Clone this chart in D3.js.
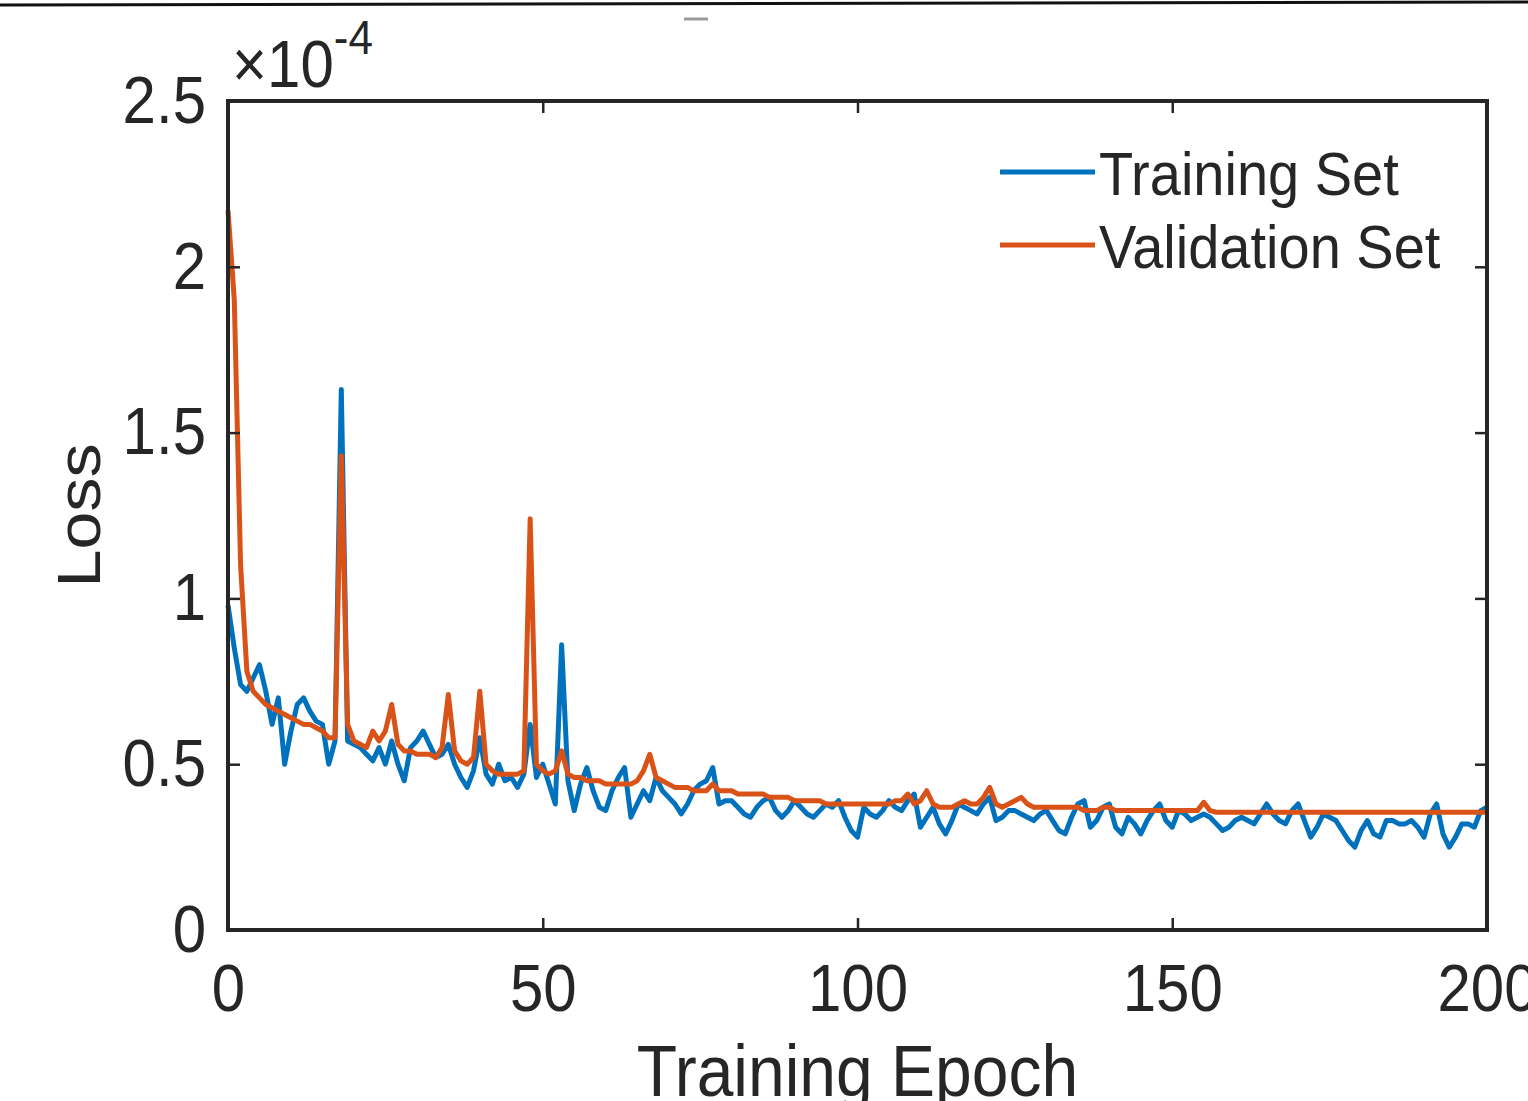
<!DOCTYPE html>
<html>
<head>
	<title>Loss</title>
	<script type="text/javascript" src="https://cdn.jsdelivr.net/npm/d3@7/dist/d3.min.js"></script>
	<style type="text/css">
		body{ margin:0; background:white; }
		text{ font-family: "Liberation Sans", Arial, Helvetica, sans-serif; fill:#262626; }
		.stretch{ transform-box: fill-box; transform-origin: center; transform: scaleY(1.1); }
		.stretch-x{ transform-box: fill-box; transform-origin: center; transform: scaleX(1.1); }
	</style>
</head>
<body>

	<svg width=1528 height=1101 class="lossplot"></svg>

	<script type="text/javascript">

		// loss values, units of 1e-4, one per epoch 0..200
		training = [
			0.98,0.85,0.74,0.72,0.76,0.80,0.72,0.62,0.70,0.50,
			0.60,0.68,0.70,0.66,0.63,0.62,0.50,0.57,1.63,0.57,
			0.56,0.55,0.53,0.51,0.55,0.50,0.57,0.50,0.45,0.55,
			0.57,0.60,0.56,0.52,0.53,0.56,0.50,0.46,0.43,0.48,
			0.58,0.47,0.44,0.50,0.45,0.46,0.43,0.47,0.62,0.46,
			0.50,0.44,0.38,0.86,0.45,0.36,0.44,0.49,0.42,0.37,
			0.36,0.42,0.46,0.49,0.34,0.38,0.42,0.39,0.46,0.42,
			0.40,0.38,0.35,0.38,0.42,0.44,0.45,0.49,0.38,0.39,
			0.39,0.37,0.35,0.34,0.37,0.39,0.40,0.36,0.34,0.36,
			0.39,0.37,0.35,0.34,0.36,0.38,0.37,0.39,0.34,0.30,
			0.28,0.37,0.35,0.34,0.36,0.39,0.37,0.36,0.39,0.41,
			0.31,0.34,0.37,0.32,0.29,0.33,0.38,0.37,0.36,0.35,
			0.38,0.40,0.33,0.34,0.36,0.36,0.35,0.34,0.33,0.35,
			0.36,0.33,0.30,0.29,0.34,0.38,0.39,0.31,0.33,0.37,
			0.38,0.31,0.29,0.34,0.32,0.29,0.33,0.36,0.38,0.33,
			0.31,0.36,0.35,0.33,0.34,0.35,0.34,0.32,0.30,0.31,
			0.33,0.34,0.33,0.32,0.35,0.38,0.35,0.33,0.32,0.36,
			0.38,0.33,0.28,0.31,0.35,0.34,0.33,0.30,0.27,0.25,
			0.30,0.33,0.29,0.28,0.33,0.33,0.32,0.32,0.33,0.31,
			0.28,0.35,0.38,0.29,0.25,0.28,0.32,0.32,0.31,0.36,
			0.37
		]

		validation = [
			2.17,1.90,1.10,0.78,0.72,0.70,0.68,0.67,0.66,0.65,
			0.64,0.63,0.62,0.62,0.61,0.60,0.58,0.58,1.43,0.62,
			0.57,0.56,0.55,0.60,0.57,0.60,0.68,0.56,0.54,0.54,
			0.53,0.53,0.53,0.52,0.55,0.71,0.54,0.51,0.50,0.52,
			0.72,0.50,0.48,0.47,0.47,0.47,0.47,0.48,1.24,0.50,
			0.48,0.47,0.48,0.54,0.47,0.46,0.46,0.45,0.45,0.45,
			0.44,0.44,0.44,0.44,0.44,0.45,0.48,0.53,0.46,0.45,
			0.44,0.43,0.43,0.43,0.42,0.42,0.42,0.44,0.42,0.42,
			0.42,0.41,0.41,0.41,0.41,0.41,0.40,0.40,0.40,0.40,
			0.39,0.39,0.39,0.39,0.39,0.38,0.38,0.38,0.38,0.38,
			0.38,0.38,0.38,0.38,0.38,0.38,0.39,0.39,0.41,0.38,
			0.39,0.42,0.38,0.37,0.37,0.37,0.38,0.39,0.38,0.38,
			0.40,0.43,0.38,0.37,0.38,0.39,0.40,0.38,0.37,0.37,
			0.37,0.37,0.37,0.37,0.37,0.37,0.36,0.36,0.36,0.37,
			0.37,0.36,0.36,0.36,0.36,0.36,0.36,0.36,0.36,0.36,
			0.36,0.36,0.36,0.36,0.36,0.385,0.36,0.355,0.355,0.355,
			0.355,0.355,0.355,0.355,0.355,0.355,0.355,0.355,0.355,0.355,
			0.355,0.355,0.355,0.355,0.355,0.355,0.355,0.355,0.355,0.355,
			0.355,0.355,0.355,0.355,0.355,0.355,0.355,0.355,0.355,0.355,
			0.355,0.355,0.355,0.355,0.355,0.355,0.355,0.355,0.355,0.355,
			0.355
		]

		series_names = ['Training Set', 'Validation Set']
		series_colors = ['#0072BD', '#D95319']
		x_ticks = [0, 50, 100, 150, 200]
		y_ticks = [0, 0.5, 1, 1.5, 2, 2.5]
		y_tick_labels = ['0', '0.5', '1', '1.5', '2', '2.5']

		svg = d3.select('.lossplot')
		margin = {'top':101, 'right':41, 'bottom':171, 'left':228}
		width = 1528 - margin.left - margin.right
		height = 1101 - margin.top - margin.bottom
		axis_col = '#262626'

		// stray marks at the top of the picture
		svg.append('line').attr('x1', 0).attr('y1', 5).attr('x2', 1528).attr('y2', 2)
			.attr('stroke', '#111').attr('stroke-width', 3)
		svg.append('line').attr('x1', 684).attr('y1', 19).attr('x2', 708).attr('y2', 19)
			.attr('stroke', '#9a9a9a').attr('stroke-width', 3)

		var g = svg.append('g')
			.attr('transform', 'translate(' + margin.left + ',' + margin.top + ')')

		x = d3.scaleLinear().domain([0, 200]).range([0, width])
		y = d3.scaleLinear().domain([0, 2.5]).range([height, 0])

		// lines
		var line = d3.line()
			.x(function(d, i) {return x(i)})
			.y(function(d) {return y(d)})

		;[training, validation].forEach(function(s, i){
			g.append('path')
				.datum(s)
				.attr('d', line)
				.attr('fill', 'none')
				.attr('stroke', series_colors[i])
				.attr('stroke-width', 5)
				.attr('stroke-linejoin', 'round')
		})

		// axes, ticks inside like matlab
		function styleAxis(sel){
			sel.select('.domain').remove()
			sel.selectAll('line').attr('stroke', axis_col).attr('stroke-width', 2.5)
			sel.selectAll('text').attr('fill', axis_col).attr('font-size', 60)
				.attr('class', 'stretch')
		}

		g.append('g').attr('transform', 'translate(0,' + height + ')')
			.call(d3.axisBottom(x).tickValues(x_ticks).tickSize(-12).tickPadding(36).tickFormat(d3.format('d')))
			.call(styleAxis)
		g.append('g')
			.call(d3.axisTop(x).tickValues(x_ticks).tickSize(-12).tickFormat(''))
			.call(styleAxis)
		g.append('g')
			.call(d3.axisLeft(y).tickValues(y_ticks).tickSize(-12).tickPadding(22)
				.tickFormat(function(d, i) {return y_tick_labels[i]}))
			.call(styleAxis)
		g.append('g').attr('transform', 'translate(' + width + ',0)')
			.call(d3.axisRight(y).tickValues(y_ticks).tickSize(-12).tickFormat(''))
			.call(styleAxis)

		g.append('rect')
			.attr('width', width).attr('height', height)
			.attr('fill', 'none').attr('stroke', axis_col).attr('stroke-width', 4)

		// exponent
		var expo = g.append('text')
			.attr('x', 4).attr('y', -17)
			.attr('font-size', 60)
			.attr('class', 'stretch')
		expo.append('tspan').text('\u00d710')
		expo.append('tspan').attr('font-size', 44).attr('dy', -30).text('-4')

		// axis labels
		g.append('text')
			.attr('x', width / 2).attr('y', height + 164)
			.attr('text-anchor', 'middle')
			.attr('font-size', 66)
			.attr('class', 'stretch')
			.text('Training Epoch')

		g.append('g')
			.attr('transform', 'translate(' + (-128) + ',' + (height / 2) + ') rotate(-90)')
			.append('text')
			.attr('text-anchor', 'middle')
			.attr('font-size', 62)
			.attr('class', 'stretch-x')
			.text('Loss')

		// legend
		var legend = g.append('g').attr('transform', 'translate(772,71)')
		series_names.forEach(function(name, i){
			legend.append('line')
				.attr('x1', 0).attr('x2', 95)
				.attr('y1', i * 73).attr('y2', i * 73)
				.attr('stroke', series_colors[i]).attr('stroke-width', 5)
			legend.append('text')
				.attr('x', 99).attr('y', i * 73 + 21)
				.attr('font-size', 56)
				.attr('class', 'stretch')
				.text(name)
		})

	</script>

</body>
</html>
